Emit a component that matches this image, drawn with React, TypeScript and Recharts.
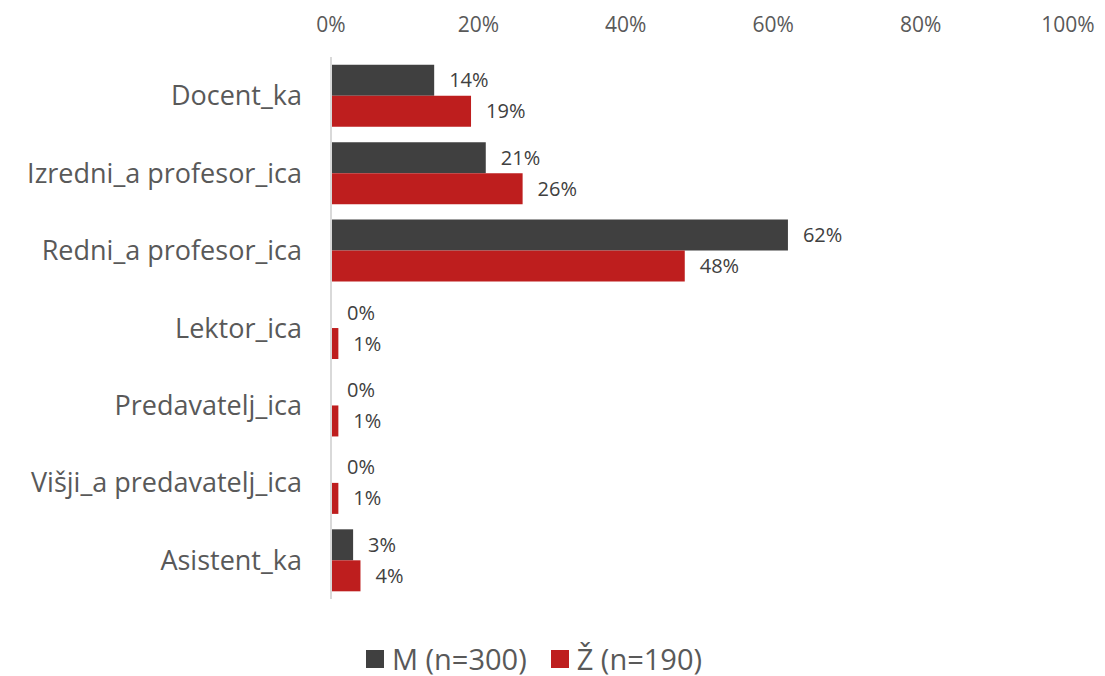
import React from "react";
import { BarChart, Bar, XAxis, YAxis, Legend, LabelList } from "recharts";

const categories = [
  "Docent_ka",
  "Izredni_a profesor_ica",
  "Redni_a profesor_ica",
  "Lektor_ica",
  "Predavatelj_ica",
  "Višji_a predavatelj_ica",
  "Asistent_ka",
];
const maleValues = [14, 21, 62, 0, 0, 0, 3];
const femaleValues = [19, 26, 48, 1, 1, 1, 4];
const xTicks = [0, 20, 40, 60, 80, 100];

const seriesNames = { m: "M (n=300)", z: "Ž (n=190)" };
const colors = { m: "#404040", z: "#BE1E1E" };

const data = categories.map((name, i) => ({
  name,
  m: maleValues[i],
  z: femaleValues[i],
}));

const font = "'Open Sans', Lato, sans-serif";
const pct = (v: number) => `${v}%`;

function LegendContent() {
  const items = [
    { key: "m", label: seriesNames.m, color: colors.m },
    { key: "z", label: seriesNames.z, color: colors.z },
  ];
  return (
    <div style={{ display: "flex", justifyContent: "center", gap: 24, fontFamily: font }}>
      {items.map((it) => (
        <div key={it.key} style={{ display: "flex", alignItems: "center", gap: 8 }}>
          <span style={{ width: 18, height: 18, background: it.color, display: "inline-block" }} />
          <span style={{ fontSize: 29, color: "#595959", lineHeight: "34px" }}>{it.label}</span>
        </div>
      ))}
    </div>
  );
}

export default function App() {
  return (
    <div style={{ position: "absolute", left: 0, top: 0, background: "#fff" }}>
      <BarChart
        width={1105}
        height={676}
        data={data}
        layout="vertical"
        margin={{ top: 17, right: 37, bottom: 43, left: 0 }}
        barCategoryGap="10%"
        barGap={0}
      >
        <XAxis
          type="number"
          orientation="top"
          domain={[0, 100]}
          ticks={xTicks}
          tickFormatter={pct}
          axisLine={false}
          tickLine={false}
          height={40}
          tickSize={0}
          tickMargin={25}
          tick={{ fill: "#595959", fontSize: 21, fontFamily: font }}
        />
        <YAxis
          type="category"
          dataKey="name"
          width={331}
          axisLine={{ stroke: "#d9d9d9", strokeWidth: 2 }}
          tickLine={false}
          tickSize={0}
          tickMargin={29}
          interval={0}
          tick={{ fill: "#595959", fontSize: 27, fontFamily: font }}
        />
        <Legend verticalAlign="bottom" content={<LegendContent />} wrapperStyle={{ bottom: 0 }} />
        <Bar dataKey="m" name={seriesNames.m} fill={colors.m} minPointSize={1} isAnimationActive={false}>
          <LabelList
            dataKey="m"
            position="right"
            offset={15}
            formatter={pct}
            style={{ fill: "#404040", fontSize: 20, fontFamily: font }}
          />
        </Bar>
        <Bar dataKey="z" name={seriesNames.z} fill={colors.z} isAnimationActive={false}>
          <LabelList
            dataKey="z"
            position="right"
            offset={15}
            formatter={pct}
            style={{ fill: "#404040", fontSize: 20, fontFamily: font }}
          />
        </Bar>
      </BarChart>
    </div>
  );
}
